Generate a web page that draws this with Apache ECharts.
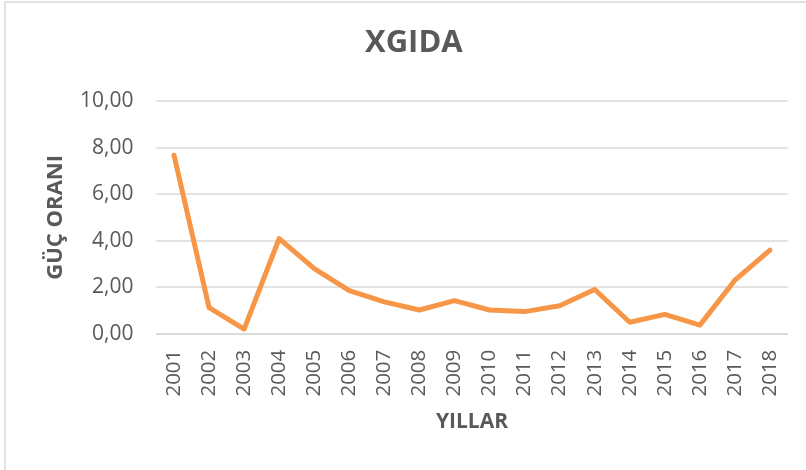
<!DOCTYPE html>
<html>
<head>
<meta charset="utf-8">
<title>XGIDA</title>
<script src="https://cdn.jsdelivr.net/npm/echarts@6/dist/echarts.min.js"></script>
<style>
  html, body { margin: 0; padding: 0; background: #fff; }
  #chart { width: 806px; height: 470px; }
</style>
</head>
<body>
<div id="chart"></div>
<script>
// XGIDA çizgi grafiği
const years = ['2001', '2002', '2003', '2004', '2005', '2006', '2007', '2008', '2009',
  '2010', '2011', '2012', '2013', '2014', '2015', '2016', '2017', '2018']
const gucOrani = [7.67, 1.12, 0.20, 4.09, 2.80, 1.85, 1.37, 1.02, 1.42,
  1.02, 0.95, 1.20, 1.90, 0.49, 0.83, 0.37, 2.30, 3.59]
const yTicks = [0, 2, 4, 6, 8, 10]

const textColor = '#595959'
const font = 'Open Sans'

const chart = echarts.init(document.getElementById('chart'))
const option = {
  animation: false,
  backgroundColor: '#fff',
  title: {
    text: 'XGIDA',
    left: 360,
    top: 23,
    textStyle: { color: textColor, fontFamily: font, fontWeight: 'bold', fontSize: 31 }
  },
  graphic: [{
    type: 'rect',
    shape: { x: 5, y: 2, width: 830, height: 490 },
    style: { fill: 'none', stroke: '#d9d9d9', lineWidth: 1.5 },
    silent: true
  }],
  grid: {
    left: 156.5,
    right: 18.5,
    top: 101,
    bottom: 136.3
  },
  xAxis: {
    type: 'category',
    data: years,
    boundaryGap: true,
    name: 'YILLAR',
    nameLocation: 'middle',
    nameGap: 78,
    nameTextStyle: { color: textColor, fontFamily: font, fontWeight: 'bold', fontSize: 21 },
    axisLine: { show: true, lineStyle: { color: '#d9d9d9', width: 1.5 } },
    axisTick: { show: false },
    axisLabel: {
      color: textColor,
      fontFamily: font,
      fontSize: 20.5,
      rotate: 90,
      interval: 0,
      margin: 16
    }
  },
  yAxis: {
    type: 'value',
    min: yTicks[0],
    max: yTicks[yTicks.length - 1],
    interval: 2,
    name: 'GÜÇ ORANI',
    nameLocation: 'middle',
    nameGap: 90,
    nameTextStyle: { color: textColor, fontFamily: font, fontWeight: 'bold', fontSize: 22 },
    axisLine: { show: false },
    axisTick: { show: false },
    axisLabel: {
      color: textColor,
      fontFamily: font,
      fontSize: 21,
      margin: 23,
      formatter: v => v.toFixed(2).replace('.', ',')
    },
    splitLine: { lineStyle: { color: '#d9d9d9', width: 1.5 } }
  },
  series: [{
    name: 'XGIDA',
    type: 'line',
    data: gucOrani,
    symbol: 'none',
    lineStyle: { color: '#f79646', width: 5, cap: 'round', join: 'round' }
  }]
}
chart.setOption(option)
</script>
</body>
</html>
